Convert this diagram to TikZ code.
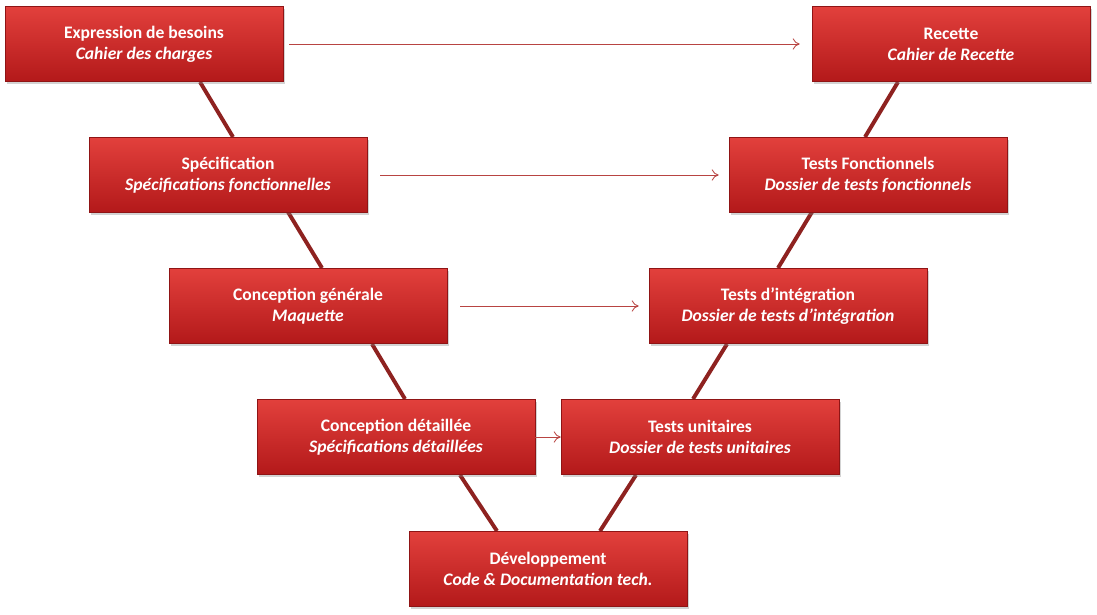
\documentclass[tikz,border=0pt]{standalone}
\usepackage{fontspec}
\setmainfont{Carlito}
\usetikzlibrary{arrows.meta,calc,shadows}
\definecolor{boxtop}{HTML}{E2403C}
\definecolor{boxbot}{HTML}{B3191A}
\definecolor{vline}{HTML}{8E2220}
\definecolor{arrowred}{HTML}{B84442}
\tikzset{
phase/.style={minimum width=278*0.025cm, minimum height=75*0.025cm, top color=boxtop, bottom color=boxbot,
  draw=boxbot!80!black, line width=0.4pt, text=white, font=\fontsize{12.5}{15}\selectfont\bfseries, align=center,
  drop shadow={shadow xshift=1.5pt, shadow yshift=-1.5pt, opacity=0.35}},
vee/.style={vline, line width=2.8pt},
link/.style={arrowred, line width=0.6pt, -{To[length=5pt,width=8pt]}}}
\begin{document}
\begin{tikzpicture}[x=0.025cm,y=-0.025cm]
    \useasboundingbox (0,0) rectangle (1097,614);

    % V lines behind the boxes
    \coordinate (l1) at (200,82); \coordinate (l2) at (233,137);
    \coordinate (l3) at (288,212); \coordinate (l4) at (322,268);
    \coordinate (l5) at (372,344); \coordinate (l6) at (405,399);
    \coordinate (l7) at (460,475); \coordinate (l8) at (497,531);
    \coordinate (r1) at (898,82); \coordinate (r2) at (865,137);
    \coordinate (r3) at (812,212); \coordinate (r4) at (778,268);
    \coordinate (r5) at (727,344); \coordinate (r6) at (693,399);
    \coordinate (r7) at (636,475); \coordinate (r8) at (600,531);
    \draw[vee] (l1) -- (l2); \draw[vee] (l3) -- (l4);
    \draw[vee] (l5) -- (l6); \draw[vee] (l7) -- (l8);
    \draw[vee] (r1) -- (r2); \draw[vee] (r3) -- (r4);
    \draw[vee] (r5) -- (r6); \draw[vee] (r7) -- (r8);

    \node[phase] (besoins) at (144,44) {Expression de besoins\\\itshape Cahier des charges};
    \node[phase] (recette) at (951,44) {Recette\\\itshape Cahier de Recette};
    \node[phase] (specif) at (228,175) {Spécification\\\itshape Spécifications fonctionnelles};
    \node[phase] (fonct) at (868,175) {Tests Fonctionnels\\\itshape Dossier de tests fonctionnels};
    \node[phase] (cgen) at (308,306) {Conception générale\\\itshape Maquette};
    \node[phase] (integ) at (788,306) {Tests d'intégration\\\itshape Dossier de tests d'intégration};
    \node[phase] (cdet) at (396,437) {Conception détaillée\\\itshape Spécifications détaillées};
    \node[phase] (unit) at (700,437) {Tests unitaires\\\itshape Dossier de tests unitaires};
    \node[phase] (dev) at (548,569) {Développement\\\itshape Code \& Documentation tech.};

    \draw[link] ($(besoins.east)+(6,0)$) -- ($(recette.west)+(-12,0)$);
    \draw[link] ($(specif.east)+(13,0)$) -- ($(fonct.west)+(-10,0)$);
    \draw[link] ($(cgen.east)+(13,0)$) -- ($(integ.west)+(-10,0)$);
    \draw[link] (cdet.east) -- (unit.west);
\end{tikzpicture}
\end{document}
